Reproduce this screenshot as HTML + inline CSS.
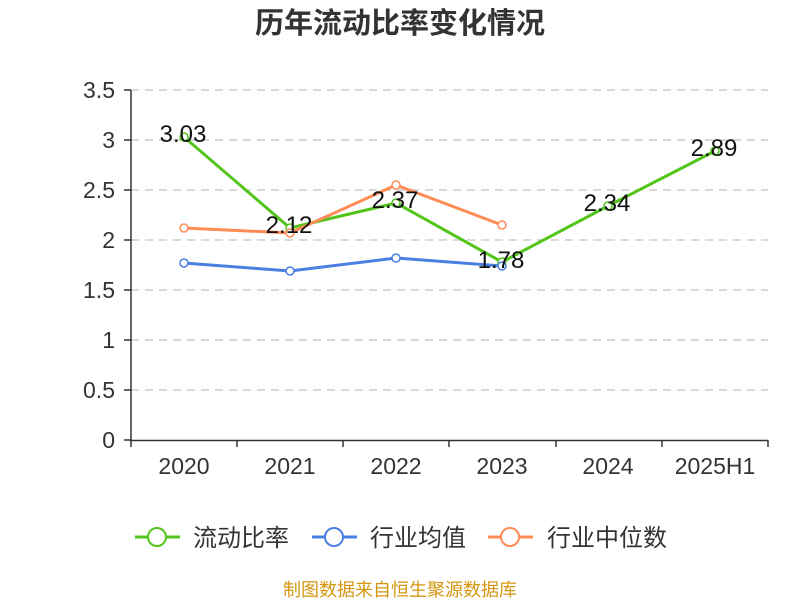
<!DOCTYPE html><html><head><meta charset="utf-8"><style>body{margin:0;background:#fff}svg{display:block}text{font-family:"Liberation Sans","Noto Sans CJK SC",sans-serif}</style></head><body>
<svg width="800" height="600" xmlns="http://www.w3.org/2000/svg">
<text x="400" y="33" text-anchor="middle" font-size="29" font-weight="bold" fill="#333">历年流动比率变化情况</text>
<g stroke="#ccc" stroke-width="1.5" stroke-dasharray="8,6">
<line x1="131" x2="768" y1="90" y2="90"/><line x1="131" x2="768" y1="140" y2="140"/><line x1="131" x2="768" y1="190" y2="190"/><line x1="131" x2="768" y1="240" y2="240"/><line x1="131" x2="768" y1="290" y2="290"/><line x1="131" x2="768" y1="340" y2="340"/><line x1="131" x2="768" y1="390" y2="390"/></g>
<g stroke="#333" stroke-width="1.5"><line x1="131" y1="90" x2="131" y2="441"/><line x1="130" y1="440.5" x2="768" y2="440.5"/>
<line x1="124" x2="131" y1="90" y2="90"/><line x1="124" x2="131" y1="140" y2="140"/><line x1="124" x2="131" y1="190" y2="190"/><line x1="124" x2="131" y1="240" y2="240"/><line x1="124" x2="131" y1="290" y2="290"/><line x1="124" x2="131" y1="340" y2="340"/><line x1="124" x2="131" y1="390" y2="390"/><line x1="124" x2="131" y1="440" y2="440"/>
<line x1="131" x2="131" y1="440" y2="447"/><line x1="237" x2="237" y1="440" y2="447"/><line x1="343" x2="343" y1="440" y2="447"/><line x1="449" x2="449" y1="440" y2="447"/><line x1="556" x2="556" y1="440" y2="447"/><line x1="662" x2="662" y1="440" y2="447"/><line x1="768" x2="768" y1="440" y2="447"/></g>
<g font-size="23" fill="#333" text-anchor="end"><text x="115" y="98">3.5</text><text x="115" y="148">3</text><text x="115" y="198">2.5</text><text x="115" y="248">2</text><text x="115" y="298">1.5</text><text x="115" y="348">1</text><text x="115" y="398">0.5</text><text x="115" y="448">0</text></g>
<g font-size="23" fill="#333" text-anchor="middle"><text x="184" y="474">2020</text><text x="290" y="474">2021</text><text x="396" y="474">2022</text><text x="502" y="474">2023</text><text x="608" y="474">2024</text><text x="715" y="474">2025H1</text></g>
<g fill="#fff" stroke-width="1.5">
<polyline points="184,137 290,228 396,203 502,262 608,206 715,151" fill="none" stroke="#52c41a" stroke-width="3"/>
<g stroke="#52c41a"><circle cx="184" cy="137" r="4"/><circle cx="290" cy="228" r="4"/><circle cx="396" cy="203" r="4"/><circle cx="502" cy="262" r="4"/><circle cx="608" cy="206" r="4"/><circle cx="715" cy="151" r="4"/></g>
<polyline points="184,263 290,271 396,258 502,266" fill="none" stroke="#4a7fe3" stroke-width="3"/>
<g stroke="#4a7fe3"><circle cx="184" cy="263" r="4"/><circle cx="290" cy="271" r="4"/><circle cx="396" cy="258" r="4"/><circle cx="502" cy="266" r="4"/></g>
<polyline points="184,228 290,233 396,185 502,225" fill="none" stroke="#ff8c55" stroke-width="3"/>
<g stroke="#ff8c55"><circle cx="184" cy="228" r="4"/><circle cx="290" cy="233" r="4"/><circle cx="396" cy="185" r="4"/><circle cx="502" cy="225" r="4"/></g></g>
<g font-size="24" fill="#111" text-anchor="middle"><text x="183" y="142">3.03</text><text x="289" y="233">2.12</text><text x="395" y="208">2.37</text><text x="501" y="268">1.78</text><text x="607" y="211">2.34</text><text x="714" y="156">2.89</text></g>
<g stroke-width="3" fill="#fff"><line x1="135" x2="180" y1="537" y2="537" stroke="#52c41a"/><circle cx="157" cy="537" r="9" stroke="#52c41a" stroke-width="2"/>
<line x1="312" x2="357" y1="537" y2="537" stroke="#4a7fe3"/><circle cx="334" cy="537" r="9" stroke="#4a7fe3" stroke-width="2"/>
<line x1="488" x2="533" y1="537" y2="537" stroke="#ff8c55"/><circle cx="510" cy="537" r="9" stroke="#ff8c55" stroke-width="2"/></g>
<g font-size="24" fill="#333"><text x="193" y="546">流动比率</text><text x="370" y="546">行业均值</text><text x="547" y="546">行业中位数</text></g>
<text x="400" y="596" text-anchor="middle" font-size="18" fill="#d4960f">制图数据来自恒生聚源数据库</text>
</svg></body></html>
